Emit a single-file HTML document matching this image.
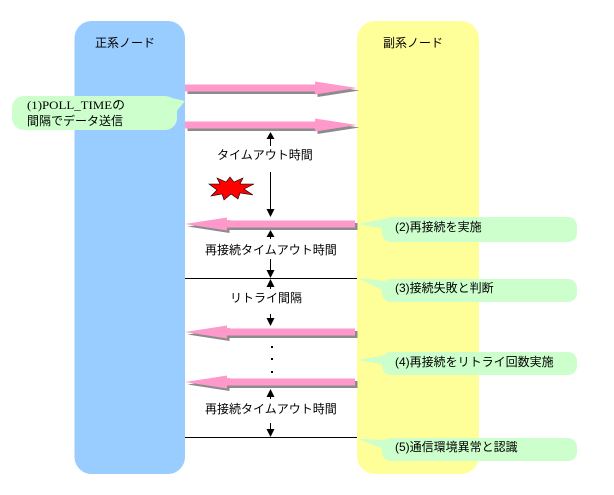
<!DOCTYPE html>
<html>
<head>
<meta charset="utf-8">
<style>
  html, body { margin:0; padding:0; background:#ffffff; }
  svg { display:block; }
  text { font-family: "Liberation Sans", "Noto Sans CJK JP", sans-serif; font-size:12px; fill:#000; }
  .serif { font-family: "Liberation Serif", "Noto Sans CJK JP", serif; }
</style>
</head>
<body>
<svg width="614" height="495" viewBox="0 0 614 495" xmlns="http://www.w3.org/2000/svg">
  <!-- columns -->
  <rect x="74.5" y="21" width="110.5" height="453" rx="17" ry="17" fill="#99ccff"/>
  <rect x="357" y="21" width="122" height="453" rx="18" ry="18" fill="#ffff99"/>

  <text x="95" y="47">正系ノード</text>
  <text x="383" y="47">副系ノード</text>

  <!-- right arrows (shadow then pink) -->
  <g transform="translate(2.5,2.5)" fill="#8c8c8c">
    <polygon points="185,84.5 315,84.5 315,81.5 357,88 315,94.5 315,91.5 185,91.5"/>
    <polygon points="185,121.5 315,121.5 315,118.5 357,125 315,131.5 315,128.5 185,128.5"/>
  </g>
  <g fill="#ff99cc">
    <polygon points="185,84.5 315,84.5 315,81.5 357,88 315,94.5 315,91.5 185,91.5"/>
    <polygon points="185,121.5 315,121.5 315,118.5 357,125 315,131.5 315,128.5 185,128.5"/>
  </g>

  <!-- left arrows -->
  <g transform="translate(2.5,2.5)" fill="#8c8c8c">
    <polygon points="355,220.5 227,220.5 227,217.5 185,224 227,230.5 227,227.5 355,227.5"/>
    <polygon points="355,328.5 227,328.5 227,325.5 185,332 227,338.5 227,335.5 355,335.5"/>
    <polygon points="355,378.5 227,378.5 227,375.5 185,382 227,388.5 227,385.5 355,385.5"/>
  </g>
  <g fill="#ff99cc">
    <polygon points="355,220.5 227,220.5 227,217.5 185,224 227,230.5 227,227.5 355,227.5"/>
    <polygon points="355,328.5 227,328.5 227,325.5 185,332 227,338.5 227,335.5 355,335.5"/>
    <polygon points="355,378.5 227,378.5 227,375.5 185,382 227,388.5 227,385.5 355,385.5"/>
  </g>

  <!-- horizontal black lines -->
  <line x1="185" y1="278.5" x2="357" y2="278.5" stroke="#000" stroke-width="1"/>
  <line x1="185" y1="437.5" x2="357" y2="437.5" stroke="#000" stroke-width="1"/>

  <!-- vertical markers -->
  <g stroke="#000" stroke-width="1">
    <line x1="270.5" y1="137" x2="270.5" y2="146"/>
    <line x1="270.5" y1="172" x2="270.5" y2="210"/>
    <line x1="270.5" y1="236" x2="270.5" y2="239"/>
    <line x1="270.5" y1="259" x2="270.5" y2="270"/>
    <line x1="270.5" y1="286" x2="270.5" y2="289"/>
    <line x1="270.5" y1="314" x2="270.5" y2="319"/>
    <line x1="270.5" y1="396" x2="270.5" y2="399"/>
    <line x1="270.5" y1="423" x2="270.5" y2="430"/>
  </g>
  <g fill="#000">
    <polygon points="270.5,132 266.5,139 274.5,139"/>
    <polygon points="270.5,217 266.5,209 274.5,209"/>
    <polygon points="270.5,230 266.5,237 274.5,237"/>
    <polygon points="270.5,278 266.5,270 274.5,270"/>
    <polygon points="270.5,279 266.5,287 274.5,287"/>
    <polygon points="270.5,326 266.5,318 274.5,318"/>
    <polygon points="270.5,389 266.5,397 274.5,397"/>
    <polygon points="270.5,437 266.5,429 274.5,429"/>
    <rect x="271" y="346" width="2" height="2"/>
    <rect x="271" y="358" width="2" height="2"/>
    <rect x="271" y="371" width="2" height="2"/>
  </g>

  <text x="217" y="159">タイムアウト時間</text>
  <text x="205" y="254">再接続タイムアウト時間</text>
  <text x="230" y="302">リトライ間隔</text>
  <text x="205" y="413">再接続タイムアウト時間</text>

  <!-- explosion star -->
  <polygon fill="#ff0000" stroke="#000" stroke-width="0.6"
    points="209,184 220,184 217,178 226,182 230,177 234,182 243,178 240,184 254,184 244,189 253,195 240,193 238,199 231,194 224,200 222,194 211,196 217,190"/>

  <!-- callout 1 -->
  <g fill="#ccffcc">
    <rect x="12" y="96" width="165" height="34" rx="12" ry="12"/>
    <polygon points="168,97 185,101 175,113"/>
  </g>
  <text class="serif" x="27" y="109" textLength="98" lengthAdjust="spacingAndGlyphs">(1)POLL_TIMEの</text>
  <text x="27" y="125">間隔でデータ送信</text>

  <!-- callouts 2-5 -->
  <g fill="#ccffcc">
    <rect x="382" y="217" width="195" height="25" rx="9" ry="9"/>
    <polygon points="358,224 386,218.5 386,229"/>
    <rect x="382" y="279" width="195" height="23" rx="9" ry="9"/>
    <polygon points="358,278 386,281 386,292"/>
    <rect x="382" y="352" width="195" height="23" rx="9" ry="9"/>
    <polygon points="358,360 386,355 386,365"/>
    <rect x="382" y="438" width="195" height="23" rx="9" ry="9"/>
    <polygon points="358,439 386,440 386,450"/>
  </g>
  <text x="395" y="231">(2)再接続を実施</text>
  <text x="395" y="292">(3)接続失敗と判断</text>
  <text x="395" y="366">(4)再接続をリトライ回数実施</text>
  <text x="395" y="451">(5)通信環境異常と認識</text>
</svg>
</body>
</html>
